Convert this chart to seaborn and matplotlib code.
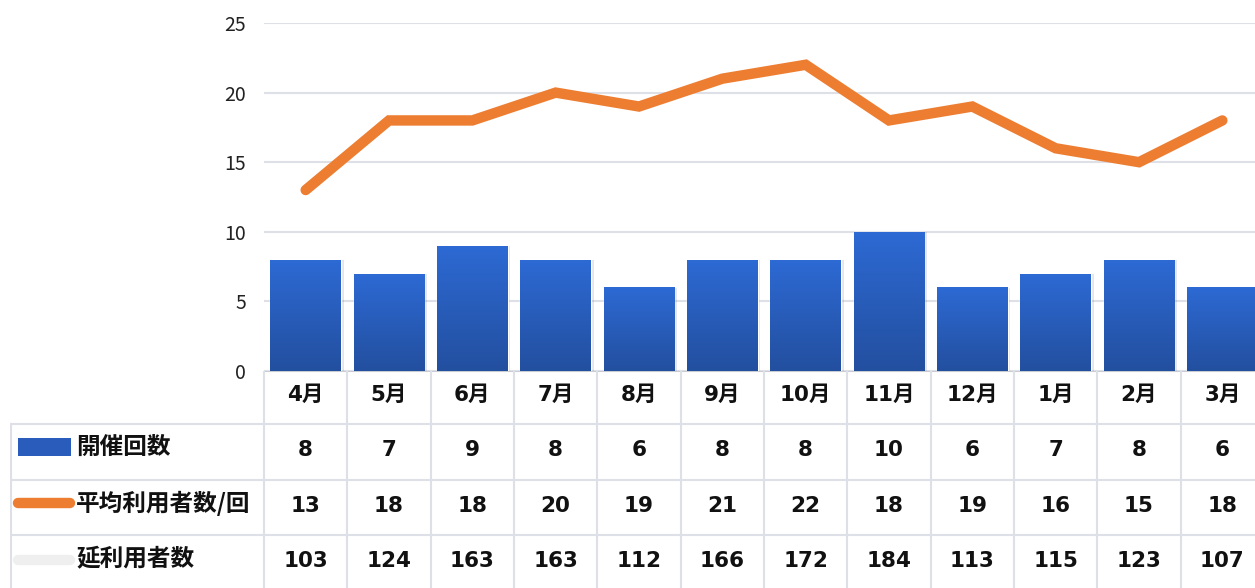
import numpy as np
import pandas as pd
import seaborn as sns
import matplotlib.pyplot as plt
from matplotlib.patches import Rectangle
from matplotlib.lines import Line2D
from matplotlib.colors import LinearSegmentedColormap

months = ["4月", "5月", "6月", "7月", "8月", "9月", "10月", "11月", "12月", "1月", "2月", "3月"]
sessions = [8, 7, 9, 8, 6, 8, 8, 10, 6, 7, 8, 6]
avg_users = [13, 18, 18, 20, 19, 21, 22, 18, 19, 16, 15, 18]
total_users = [103, 124, 163, 163, 112, 166, 172, 184, 113, 115, 123, 107]
row_labels = ["開催回数", "平均利用者数/回", "延利用者数"]

sns.set_theme(style="white")
plt.rcParams["font.family"] = ["Noto Sans CJK JP", "DejaVu Sans"]

W, H = 1255, 588
fig = plt.figure(figsize=(W / 100, H / 100), dpi=100)

# plot area in pixels (right edge runs past the image, as in the original)
x0, x1 = 264, 1264
y_top, y_bot = 23, 371
ax = fig.add_axes([x0 / W, 1 - y_bot / H, (x1 - x0) / W, (y_bot - y_top) / H])

df = pd.DataFrame({"month": months, "sessions": sessions})
sns.barplot(data=df, x="month", y="sessions", order=months, color="#2c66d0",
            width=0.85, saturation=1, ax=ax, zorder=3)

# gradient fill on bars
grad = np.linspace(0, 1, 256).reshape(-1, 1)
cmap = LinearSegmentedColormap.from_list("bl", ["#234f9f", "#2d6ad4"])
for p in list(ax.patches):
    bx, by = p.get_x(), p.get_y()
    bw, bh = p.get_width(), p.get_height()
    sh = Rectangle((bx + 0.03, by), bw, bh - 0.05, color="#000000", alpha=0.10,
                   zorder=2, lw=0)
    ax.add_patch(sh)
    im = ax.imshow(grad, extent=[bx, bx + bw, by, by + bh], origin="lower",
                   cmap=cmap, aspect="auto", zorder=3.5)
    im.set_clip_path(p)

sns.lineplot(x=np.arange(len(months)), y=avg_users, color="#ed7d31", lw=7.5,
             solid_capstyle="round", solid_joinstyle="miter", ax=ax, zorder=5)

ax.set_xlim(-0.5, len(months) - 0.5)
ax.set_ylim(0, 25)
ax.set_yticks([0, 5, 10, 15, 20, 25])
ax.yaxis.grid(True, color="#dde1e7", lw=1.5, zorder=0)
ax.set_axisbelow(True)
ax.set_xlabel("")
ax.set_ylabel("")
ax.set_xticks([])
for s in ax.spines.values():
    s.set_visible(False)
ax.tick_params(axis="y", length=0, pad=13, labelsize=14, labelcolor="#222222")

# data table below the plot area
step = (x1 - x0) / len(months)
tx0 = 10
tab = fig.add_axes([tx0 / W, 0, (x1 - tx0) / W, (H - y_bot) / H])
left_lim = -0.5 - (x0 - tx0) / step
tab.axis("off")

lc = "#dde1e7"
rows_y = [371, 424, 480, 535]
tab.plot([-0.5, len(months) - 0.5], [371, 371], color="#c9cdd3", lw=1.5)
for yy in rows_y[1:]:
    tab.plot([left_lim, len(months) - 0.5], [yy, yy], color=lc, lw=1.5)
for i in range(len(months) + 1):
    tab.plot([i - 0.5, i - 0.5], [371, H], color=lc, lw=1.5)
tab.plot([left_lim + 0.01, left_lim + 0.01], [424, H], color=lc, lw=1.5)

num_font = ["DejaVu Sans", "Noto Sans CJK JP"]
fs = 15.5
for i, m in enumerate(months):
    tab.text(i, 395, m, ha="center", va="center", fontsize=fs, fontweight="bold",
             family=num_font, color="#111111")
for yc, vals in zip([450, 506, 561], [sessions, avg_users, total_users]):
    for i, v in enumerate(vals):
        tab.text(i, yc, str(v), ha="center", va="center", fontsize=fs, fontweight="bold",
                 family=num_font, color="#111111")

def px(x):
    return left_lim + (x - tx0) / step

tab.add_patch(Rectangle((px(18), 438), px(71) - px(18), 18, color="#2a5cbc", lw=0))
tab.add_line(Line2D([px(18), px(70)], [503, 503], color="#ed7d31", lw=7.5, solid_capstyle="round"))
tab.add_line(Line2D([px(18), px(70)], [560, 560], color="#efefef", lw=7.5, solid_capstyle="round"))
for lab, yy in zip(row_labels, [447, 503, 558]):
    tab.text(px(76), yy, lab, ha="left", va="center", fontsize=17, fontweight="bold", color="#111111")

tab.set_xlim(left_lim, len(months) - 0.5)
tab.set_ylim(H, y_bot)

fig.savefig("out.png", dpi=100)
